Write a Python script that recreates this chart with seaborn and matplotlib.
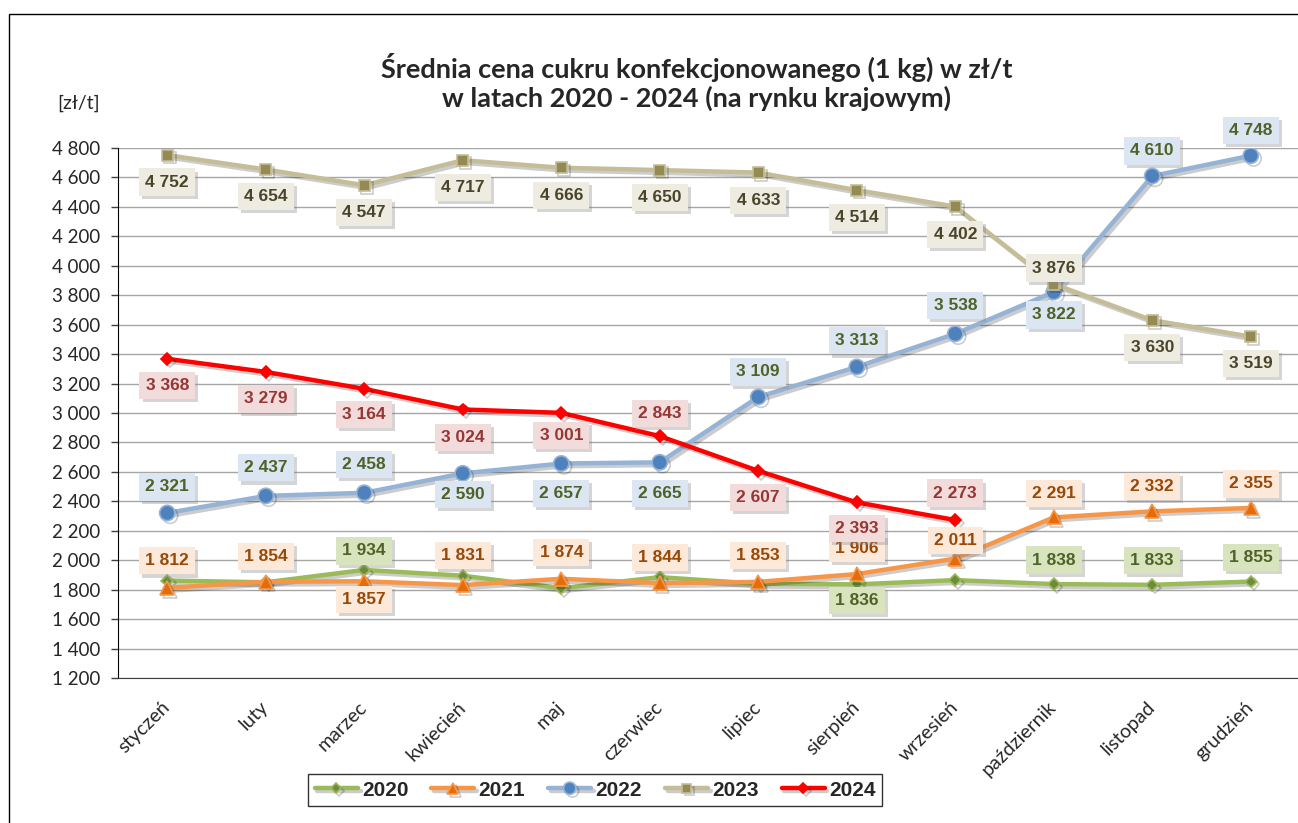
import numpy as np
import pandas as pd
import seaborn as sb
import matplotlib.pyplot as plt
import matplotlib.patheffects as pe
from matplotlib.patches import Rectangle

# months (Polish) and monthly average prices [zl/t]
months = ["styczeń", "luty", "marzec", "kwiecień", "maj", "czerwiec",
          "lipiec", "sierpień", "wrzesień", "październik", "listopad", "grudzień"]

y2020 = [1862, 1850, 1934, 1895, 1810, 1885, 1840, 1836, 1865, 1838, 1833, 1855]
y2021 = [1812, 1854, 1857, 1831, 1874, 1844, 1853, 1906, 2011, 2291, 2332, 2355]
y2022 = [2321, 2437, 2458, 2590, 2657, 2665, 3109, 3313, 3538, 3822, 4610, 4748]
y2023 = [4752, 4654, 4547, 4717, 4666, 4650, 4633, 4514, 4402, 3876, 3630, 3519]
y2024 = [3368, 3279, 3164, 3024, 3001, 2843, 2607, 2393, 2273]

years = ["2020", "2021", "2022", "2023", "2024"]
values = [y2020, y2021, y2022, y2023, y2024]

# styling per series: line colour, marker, marker colour, marker size, label box, label text
styles = {
    "2020": dict(lc="#9bbb59", m="D", mc="#6e8b3d", ms=6, box="#d7e4bd", tc="#4f6228"),
    "2021": dict(lc="#f79646", m="^", mc="#e46c0a", ms=10, box="#fde9d9", tc="#984807"),
    "2022": dict(lc="#95b3d7", m="o", mc="#4f81bd", ms=11, box="#dce6f2", tc="#4f6228"),
    "2023": dict(lc="#c4bd97", m="s", mc="#948a54", ms=8, box="#eeece1", tc="#4a452a"),
    "2024": dict(lc="#ff0000", m="D", mc="#ff0000", ms=6, box="#f2dcdb", tc="#953735"),
}

# vertical label offsets in pixels (negative = above point), None = no label
label_dy = {
    "2020": [None, None, -19, None, None, None, None, 16, None, -24, -24, -24],
    "2021": [-27, -25, 18, -30, -26, -26, -26, -26, -18, -24, -25, -24],
    "2022": [-26, -28, -28, 21, 30, 31, -25, -26, -28, 23, -25, -25],
    "2023": [27, 27, 27, 27, 28, 27, 28, 27, 28, -16, 27, 27],
    "2024": [27, 27, 26, 28, 23, -23, 27, 26, -27],
}

sb.set_style("white")
plt.rcParams["font.family"] = ["Lato", "DejaVu Sans"]

W, H = 1298, 823
fig = plt.figure(figsize=(W / 100, H / 100), dpi=100)
ax = fig.add_axes([118 / W, 1 - 678 / H, (1300 - 118) / W, (678 - 148) / H])

for yr, vals in zip(years, values):
    st = styles[yr]
    df = pd.DataFrame({"x": np.arange(len(vals)), "y": vals})
    sb.lineplot(data=df, x="x", y="y", ax=ax, color=st["lc"], linewidth=3.2,
                marker=st["m"], markersize=st["ms"], markerfacecolor=st["mc"],
                markeredgecolor=st["lc"], markeredgewidth=1.2, label=yr,
                zorder=3, path_effects=[pe.SimpleLineShadow(offset=(2, -2), alpha=0.2), pe.Normal()])
    for i, v in enumerate(vals):
        dy = label_dy[yr][i]
        if dy is None:
            continue
        txt = f"{v:,}".replace(",", " ")
        t = ax.annotate(txt, (i, v), xytext=(0, -dy * 0.72), textcoords="offset points",
                        ha="center", va="center", fontsize=12.5, fontweight="bold",
                        family="Liberation Sans", color=st["tc"], zorder=5,
                        bbox=dict(boxstyle="square,pad=0.35", fc=st["box"], ec="none"))
        # drop shadow on the label box
        t.get_bbox_patch().set_path_effects(
            [pe.SimplePatchShadow(offset=(2.2, -2.2), shadow_rgbFace="#888888", alpha=0.35), pe.Normal()])

ax.set_xlim(-0.5, 11.5)
ax.set_ylim(1200, 4800)
ax.set_yticks(np.arange(1200, 4801, 200))
ax.set_yticklabels([f"{t:,}".replace(",", " ") for t in range(1200, 4801, 200)], fontsize=13.5)
ax.set_xticks(np.arange(12))
ax.set_xticklabels(months, rotation=45, ha="right", va="center", rotation_mode="anchor", fontsize=14)
ax.set_xticks(np.arange(-0.5, 12, 1), minor=True)
ax.tick_params(axis="x", which="major", length=0, pad=19)
ax.tick_params(axis="x", which="minor", length=6, width=1, color="#404040", direction="out")
ax.tick_params(axis="y", length=5, width=1, color="#404040", direction="out", pad=8, left=True)
ax.grid(axis="y", color="#a6a6a6", linewidth=1)
ax.set_axisbelow(True)
ax.set_xlabel("")
ax.set_ylabel("")
for s in ["top", "right"]:
    ax.spines[s].set_visible(False)
ax.spines["left"].set_color("#000000")
ax.spines["bottom"].set_color("#404040")

leg = ax.legend(loc="center", bbox_to_anchor=(595 / W, 1 - 790 / H), bbox_transform=fig.transFigure,
                ncol=5, frameon=True, fancybox=False, edgecolor="#000000", handlelength=2.07,
                columnspacing=1.1, handletextpad=0.2, borderpad=0.3, markerscale=0.8,
                prop={"family": "Liberation Sans", "weight": "bold", "size": 15})
leg.get_frame().set_linewidth(1.0)

fig.text(697 / W, 1 - 82 / H, "Średnia cena cukru konfekcjonowanego (1 kg) w zł/t\nw latach 2020 - 2024 (na rynku krajowym)",
         ha="center", va="center", fontsize=19.5, fontweight="bold", linespacing=1.15)
fig.text(79 / W, 1 - 103 / H, "[zł/t]", ha="center", va="center", fontsize=14)

fig.patches.append(Rectangle((9 / W, -0.02), 1.05, 1 - 14 / H + 0.02, transform=fig.transFigure,
                             fill=False, ec="#000000", lw=1))

fig.savefig("out.png", dpi=100)
